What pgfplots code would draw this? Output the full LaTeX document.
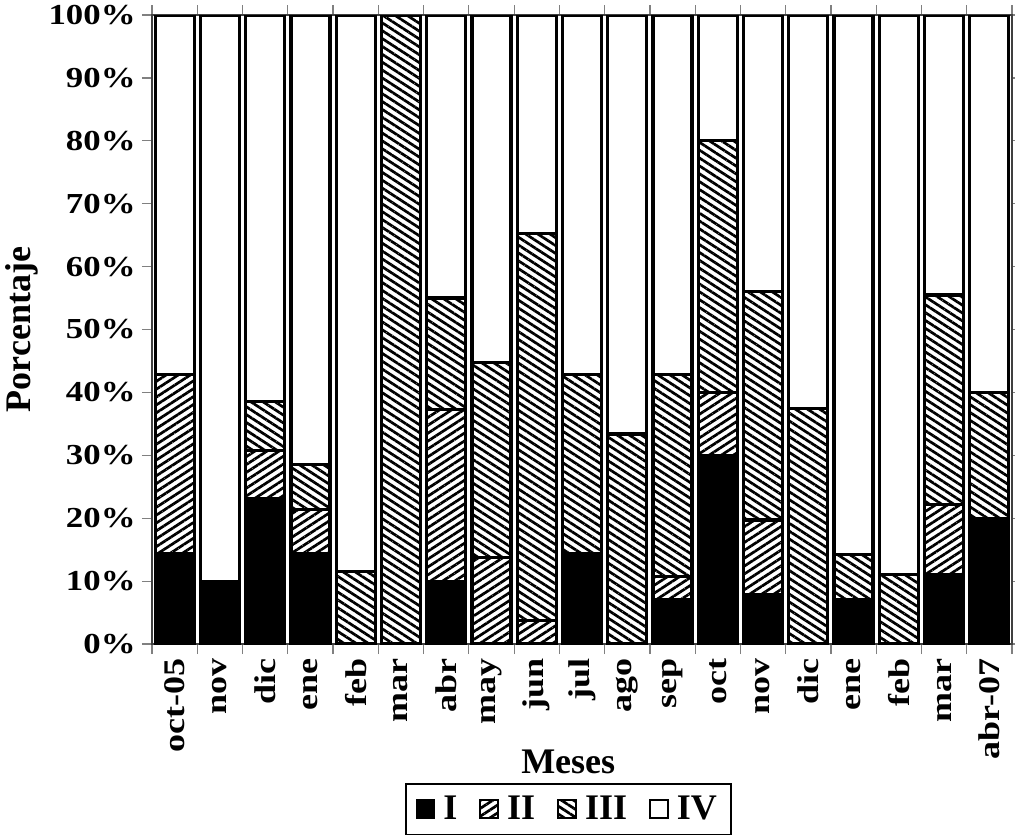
\documentclass[border=0pt]{standalone}
\usepackage{fontspec}
\setmainfont{Liberation Serif}
\newfontfamily\tkfont[FakeStretch=1.2]{Liberation Serif}
\usepackage{pgfplots}
\usepackage{pgfplotstable}
\pgfplotsset{compat=1.18}
\usetikzlibrary{patterns.meta}

\pgfplotstableread{
x I II III IV
0 14.3 28.6 0 57.1
1 10 0 0 90
2 23.1 7.7 7.7 61.5
3 14.3 7.1 7.1 71.5
4 0 0 11.5 88.5
5 0 0 100 0
6 10 27.3 17.7 45
7 0 13.7 31.1 55.2
8 0 3.7 61.6 34.7
9 14.3 0 28.6 57.1
10 0 0 33.4 66.6
11 7.1 3.6 32.1 57.2
12 30 10 40 20
13 7.9 11.8 36.4 43.9
14 0 0 37.5 62.5
15 7.1 0 7.1 85.8
16 0 0 11.1 88.9
17 11.1 11.1 33.3 44.5
18 20 0 20 60
}\data

\begin{document}
\begin{tikzpicture}
\begin{axis}[
  scale only axis,
  width=430pt, height=314.5pt,
  ybar stacked,
  bar width=19.5pt,
  xmin=-0.5, xmax=18.5,
  ymin=0, ymax=100,
  axis line style={black!75, line width=0.6pt},
  tick align=outside,
  xtick={0,...,18},
  xticklabels={oct-05,nov,dic,ene,feb,mar,abr,may,jun,jul,ago,sep,oct,nov,dic,ene,feb,mar,abr-07},
  major x tick style={draw=none},
  minor xtick={-0.5,0.5,...,18.5},
  minor tick length=5pt,
  minor tick style={black!50, line width=0.6pt},
  major tick length=5pt,
  ytick={0,10,...,100},
  yticklabels={0\%,10\%,20\%,30\%,40\%,50\%,60\%,70\%,80\%,90\%,100\%},
  major y tick style={black!50, line width=0.6pt},
  x tick label style={rotate=90, anchor=east, font=\tkfont\bfseries\fontsize{15}{15}\selectfont, inner sep=2pt},
  y tick label style={font=\tkfont\bfseries\fontsize{14.5}{14.5}\selectfont, inner sep=3pt},
  xlabel={Meses},
  ylabel={Porcentaje},
  xlabel style={at={(axis description cs:0.484,-0.1876)}, anchor=center, font=\bfseries\fontsize{18}{18}\selectfont},
  ylabel style={at={(axis description cs:-0.151,0.5)}, anchor=center, font=\bfseries\fontsize{18}{18}\selectfont},
  legend columns=4,
  legend style={at={(axis description cs:0.484,-0.221)}, anchor=north, draw=black, line width=0.9pt,
    font=\bfseries\fontsize{18}{18}\selectfont, inner xsep=5pt, inner ysep=4pt,
    /tikz/every odd column/.append style={column sep=2pt},
    /tikz/every even column/.append style={column sep=9pt}},
  legend image code/.code={\draw[#1, line width=0.9pt] (0pt,-4.5pt) rectangle (9pt,4.5pt);},
]
\addplot[fill=black, draw=black, line width=1.6pt] table[x=x,y=I] {\data};
\addplot[draw=black, line width=1.6pt, pattern={Lines[angle=33,distance=3.3pt,line width=1.35pt]}, pattern color=black] table[x=x,y=II] {\data};
\addplot[draw=black, line width=1.6pt, pattern={Lines[angle=-33,distance=3.3pt,line width=1.35pt]}, pattern color=black] table[x=x,y=III] {\data};
\addplot[fill=white, draw=black, line width=1.6pt] table[x=x,y=IV] {\data};
\legend{I,II,III,IV}
\coordinate (sw) at (rel axis cs:0,0);
\coordinate (ne) at (rel axis cs:1,1);
\end{axis}
\pgfresetboundingbox
\useasboundingbox ([xshift=-76pt,yshift=-96.5pt]sw) rectangle ([xshift=1.5pt,yshift=7.5pt]ne);
\end{tikzpicture}
\end{document}
